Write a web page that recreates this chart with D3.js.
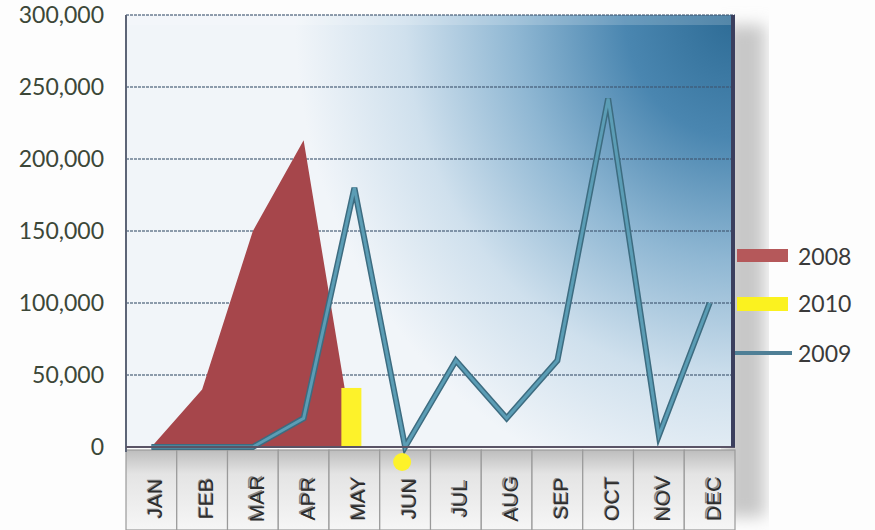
<!DOCTYPE html>
<html>
<head>
<meta charset="utf-8">
<script src="https://cdn.jsdelivr.net/npm/d3@7"></script>
<style>
body { margin: 0; background: #fdfdfd; }
svg { display: block; }
</style>
</head>
<body>
<div id="chart-area"></div>
<script>
var months = ["JAN", "FEB", "MAR", "APR", "MAY", "JUN", "JUL", "AUG", "SEP", "OCT", "NOV", "DEC"];
// 2008 area (only first months shown)
var s2008 = [0, 40000, 150000, 213000, 0];
// 2009 line
var s2009 = [0, 0, 0, 20000, 180000, 0, 60000, 20000, 60000, 242000, 8000, 100000];
// 2010 bar + marker
var s2010Bars = [{month: "MAY", value: 41000}];
var s2010Dots = [{month: "JUN", value: 0}];
var yTicks = [0, 50000, 100000, 150000, 200000, 250000, 300000];
var legendItems = ["2008", "2010", "2009"];

var margin = {top: 15, right: 140, bottom: 83, left: 126};
var width = 875 - margin.left - margin.right;
var height = 530 - margin.top - margin.bottom;

var svg = d3.select("#chart-area").append("svg")
	.attr("width", 875)
	.attr("height", 530);

var defs = svg.append("defs");

// blue in the top right corner, fading to white towards left and bottom
var bg = defs.append("radialGradient")
	.attr("id", "bg")
	.attr("gradientUnits", "userSpaceOnUse")
	.attr("cx", 0).attr("cy", 0).attr("r", 1)
	.attr("gradientTransform", "translate(" + width + ",0) scale(440,490)");
bg.append("stop").attr("offset", 0).attr("stop-color", "#2d6b95");
bg.append("stop").attr("offset", 0.25).attr("stop-color", "#4a86b0");
bg.append("stop").attr("offset", 0.5).attr("stop-color", "#8fb7d3");
bg.append("stop").attr("offset", 0.75).attr("stop-color", "#cfe0ed");
bg.append("stop").attr("offset", 1).attr("stop-color", "#f1f5f9");

var cell = defs.append("linearGradient")
	.attr("id", "cell").attr("x1", 0).attr("y1", 0).attr("x2", 0).attr("y2", 1);
cell.append("stop").attr("offset", 0).attr("stop-color", "#bdbdbd");
cell.append("stop").attr("offset", 0.3).attr("stop-color", "#e4e4e4");
cell.append("stop").attr("offset", 1).attr("stop-color", "#f6f6f6");

defs.append("filter").attr("id", "blur")
	.append("feGaussianBlur").attr("stdDeviation", 8);

var g = svg.append("g")
	.attr("transform", "translate(" + margin.left + ", " + margin.top + ")");

var x = d3.scaleBand()
	.domain(months)
	.range([0, width])
	.padding(0);

var y = d3.scaleLinear()
	.domain([0, 300000])
	.range([height, 0]);

var cx = (m) => x(m) + x.bandwidth() / 2;

// shadow right of the plot
g.append("rect")
	.attr("x", width - 10).attr("y", 10)
	.attr("width", 40).attr("height", height + 60)
	.attr("fill", "#c8c8c8")
	.attr("filter", "url(#blur)");

// plot background
g.append("rect")
	.attr("width", width).attr("height", height)
	.attr("fill", "#f1f5f9");
g.append("rect")
	.attr("width", width).attr("height", height)
	.attr("fill", "url(#bg)");

// top bevel
g.append("rect")
	.attr("x", 0).attr("y", 0)
	.attr("width", width).attr("height", 10)
	.attr("fill", "#ffffff").attr("opacity", 0.18);

// category cells under the plot
g.selectAll(".cell").data(months).enter().append("rect")
	.attr("class", "cell")
	.attr("x", (d) => x(d))
	.attr("y", height + 3)
	.attr("width", x.bandwidth())
	.attr("height", margin.bottom - 3)
	.attr("fill", "url(#cell)")
	.attr("stroke", "#9a9a9a")
	.attr("stroke-width", 1.2);

// gridlines
g.selectAll(".grid").data(yTicks).enter().append("line")
	.attr("class", "grid")
	.attr("x1", 0).attr("x2", width)
	.attr("y1", (d) => y(d)).attr("y2", (d) => y(d))
	.attr("stroke", "#3f5570")
	.attr("stroke-width", 1.3)
	.attr("stroke-dasharray", "3,1")
	.attr("opacity", 0.75);

// 2008 area
var area = d3.area()
	.x((d, i) => cx(months[i]))
	.y0(y(0))
	.y1((d) => y(d));

g.append("path")
	.datum(s2008)
	.attr("d", area)
	.attr("fill", "#a6464b");

// 2010 bar
g.selectAll(".bar").data(s2010Bars).enter().append("rect")
	.attr("class", "bar")
	.attr("x", (d) => cx(d.month) - 13)
	.attr("y", (d) => y(d.value))
	.attr("width", 20)
	.attr("height", (d) => y(0) - y(d.value))
	.attr("fill", "#fdf22a");

// 2009 line
var line = d3.line()
	.x((d, i) => cx(months[i]))
	.y((d) => y(d));

g.append("path")
	.datum(s2009)
	.attr("d", line)
	.attr("fill", "none")
	.attr("stroke", "#3d6c80")
	.attr("stroke-width", 6)
	.attr("stroke-linejoin", "miter");

g.append("path")
	.datum(s2009)
	.attr("d", line)
	.attr("fill", "none")
	.attr("stroke", "#5b9db5")
	.attr("stroke-width", 3);

// 2010 marker
g.selectAll(".dot").data(s2010Dots).enter().append("circle")
	.attr("class", "dot")
	.attr("cx", (d) => cx(d.month) - 3)
	.attr("cy", (d) => y(d.value) + 15)
	.attr("r", 9)
	.attr("fill", "#fdf22a");

// frame
g.append("line")
	.attr("x1", 0).attr("x2", 0).attr("y1", 0).attr("y2", height + 5)
	.attr("stroke", "#5d6577").attr("stroke-width", 2);
g.append("line")
	.attr("x1", 0).attr("x2", width).attr("y1", height).attr("y2", height)
	.attr("stroke", "#5a5466").attr("stroke-width", 2);
g.append("line")
	.attr("x1", width - 2).attr("x2", width - 2).attr("y1", 0).attr("y2", height)
	.attr("stroke", "#3b3f5e").attr("stroke-width", 4);

// y axis
var leftAxis = d3.axisLeft(y)
	.tickValues(yTicks)
	.tickSize(0)
	.tickPadding(22)
	.tickFormat(d3.format(","));
var ya = g.append("g")
	.attr("class", "left axis")
	.call(leftAxis);
ya.select(".domain").remove();
ya.selectAll("text")
	.attr("font-family", "Lato, 'Open Sans', sans-serif")
	.attr("font-size", "23px")
	.attr("fill", "#3c4738");

// month labels
var labels = g.selectAll(".mlabel").data(months).enter().append("g")
	.attr("class", "mlabel")
	.attr("transform", (d) => "translate(" + (cx(d) + 11) + "," + (height + 52) + ") rotate(-90)");
labels.append("text")
	.attr("x", 1).attr("y", -1.5)
	.attr("text-anchor", "middle")
	.attr("font-family", "'Liberation Sans', Arial, sans-serif")
	.attr("font-size", "21px")
	.attr("fill", "#8a8a8a")
	.text((d) => d);
labels.append("text")
	.attr("text-anchor", "middle")
	.attr("font-family", "'Liberation Sans', Arial, sans-serif")
	.attr("font-size", "21px")
	.attr("fill", "#2d2d2d")
	.text((d) => d);

// legend
var legend = svg.append("g")
	.attr("transform", "translate(" + (margin.left + width) + ",0)");
var legY = [257, 304, 354];
legend.append("rect")
	.attr("x", 2).attr("y", legY[0] - 8).attr("width", 51).attr("height", 13)
	.attr("fill", "#b5585a");
legend.append("rect")
	.attr("x", 2).attr("y", legY[1] - 7).attr("width", 51).attr("height", 14)
	.attr("fill", "#fbf21f");
legend.append("line")
	.attr("x1", 0).attr("x2", 57).attr("y1", legY[2] - 1).attr("y2", legY[2] - 1)
	.attr("stroke", "#4f7f96").attr("stroke-width", 4);
legend.selectAll(".ltext").data(legendItems).enter().append("text")
	.attr("class", "ltext")
	.attr("x", 63)
	.attr("y", (d, i) => legY[i])
	.attr("dy", "0.35em")
	.attr("font-family", "Lato, 'Open Sans', sans-serif")
	.attr("font-size", "23px")
	.attr("fill", "#3a3a3a")
	.text((d) => d);
</script>
</body>
</html>
